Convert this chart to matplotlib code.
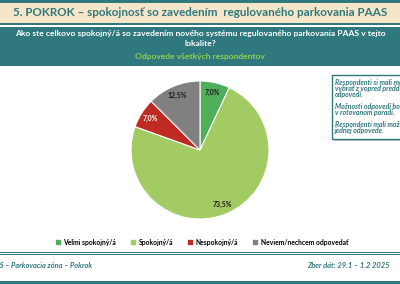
import matplotlib
matplotlib.use("Agg")
import matplotlib.pyplot as plt
from matplotlib.patches import Rectangle
from matplotlib.lines import Line2D

categories = ["Veľmi spokojný/á", "Spokojný/á", "Nespokojný/á", "Neviem/nechcem odpovedať"]
values = [7.0, 73.5, 7.0, 12.5]
colors = ["#4FAE5A", "#A2CC63", "#BF2A22", "#808080"]
label_colors = ["#1a1a1a", "#1a1a1a", "#ffffff", "#1a1a1a"]

title = "5. POKROK – spokojnosť so zavedením  regulovaného parkovania PAAS"
question = "Ako ste celkovo spokojný/á so zavedením nového systému regulovaného parkovania PAAS v tejto\nlokalite?"
subtitle = "Odpovede všetkých respondentov"
note_lines = ["Respondenti si mali možnosť", "vybrať z vopred preddefinovaných", "odpovedí.", "",
              "Možnosti odpovedí boli zobrazené", "v rotovanom poradí.", "",
              "Respondenti mali možnosť výberu", "jednej odpovede."]
footer_left = "PAAS – Parkovacia zóna – Pokrok"
footer_right = "Zber dát: 29.1 – 1.2 2025"

plt.rcParams['font.family'] = ['Lato', 'DejaVu Sans']

W, H = 400, 284
fig = plt.figure(figsize=(W/100, H/100), dpi=100)
teal = "#2F787D"
beige = "#F6E6C9"

def px(x, y):
    return x / W, 1 - y / H

bg = fig.add_axes([0, 0, 1, 1])
bg.set_xlim(0, W); bg.set_ylim(H, 0); bg.axis("off")
# top bars
bg.add_patch(Rectangle((0, 0), W, 2.5, color=teal, lw=0))
bg.add_patch(Rectangle((0, 2.5), W, 20, color=beige, lw=0))
bg.add_patch(Rectangle((0, 23.3), W, 1.6, color=teal, lw=0))
bg.add_patch(Rectangle((0, 26.5), W, 39, color=teal, lw=0))
bg.text(W/2, 13, title, ha="center", va="center", fontsize=8.4, fontweight="bold", color=teal)
bg.text(W/2, 38.5, question, ha="center", va="center", fontsize=6.1, fontweight="bold",
        color="white", linespacing=1.35)
bg.text(W/2, 56.5, subtitle, ha="center", va="center", fontsize=6.1, fontweight="bold", color="#8FD14F")

# note box with shadow
bg.add_patch(Rectangle((334, 77), 80, 64, facecolor="#9a9a9a", lw=0, alpha=0.6))
bg.add_patch(Rectangle((332, 75), 80, 64, facecolor="white", edgecolor=teal, lw=1.0))
y = 83
for ln in note_lines:
    if ln:
        bg.text(335, y, ln, ha="left", va="center", fontsize=5.0, fontstyle="italic",
                fontweight="bold", color=teal)
    y += 6.0 if ln else 6.0

# bottom lines
bg.add_patch(Rectangle((0, 251.5), W, 1.6, color=teal, lw=0))
bg.add_patch(Rectangle((0, 254.2), W, 0.6, color=teal, lw=0))
bg.add_patch(Rectangle((0, 281), W, 3, color=teal, lw=0))
bg.text(-14, 265, footer_left, ha="left", va="center", fontsize=5.3, fontstyle="italic",
        fontweight="bold", color=teal)
bg.text(390, 265, footer_right, ha="right", va="center", fontsize=5.4, fontstyle="italic",
        fontweight="bold", color=teal)

# pie
cx, cy, r = 200, 150, 69
x0, y0 = px(cx - r, cy + r)
ax = fig.add_axes([x0, y0, 2*r/W, 2*r/H])
wedges, texts, autotexts = ax.pie(values, colors=colors, startangle=90, counterclock=False,
                                  autopct=lambda p: f"{p:.1f}%".replace(".", ","),
                                  pctdistance=0.85,
                                  wedgeprops=dict(edgecolor="white", linewidth=0.8))
for t, c in zip(autotexts, label_colors):
    t.set_color(c); t.set_fontsize(5.0); t.set_fontweight("bold")
ax.set_xlim(-1, 1); ax.set_ylim(-1, 1)
ax.set_aspect("equal")

handles = [Line2D([], [], marker="s", linestyle="", markersize=2.2, color=c) for c in colors]
fig.legend(handles, categories, loc="center", bbox_to_anchor=px(202, 242), ncol=4,
           frameon=False, handlelength=0.6, handletextpad=0.5,
           columnspacing=2.2, prop=dict(size=4.9, weight="bold"))

fig.savefig("out.png", dpi=100)
